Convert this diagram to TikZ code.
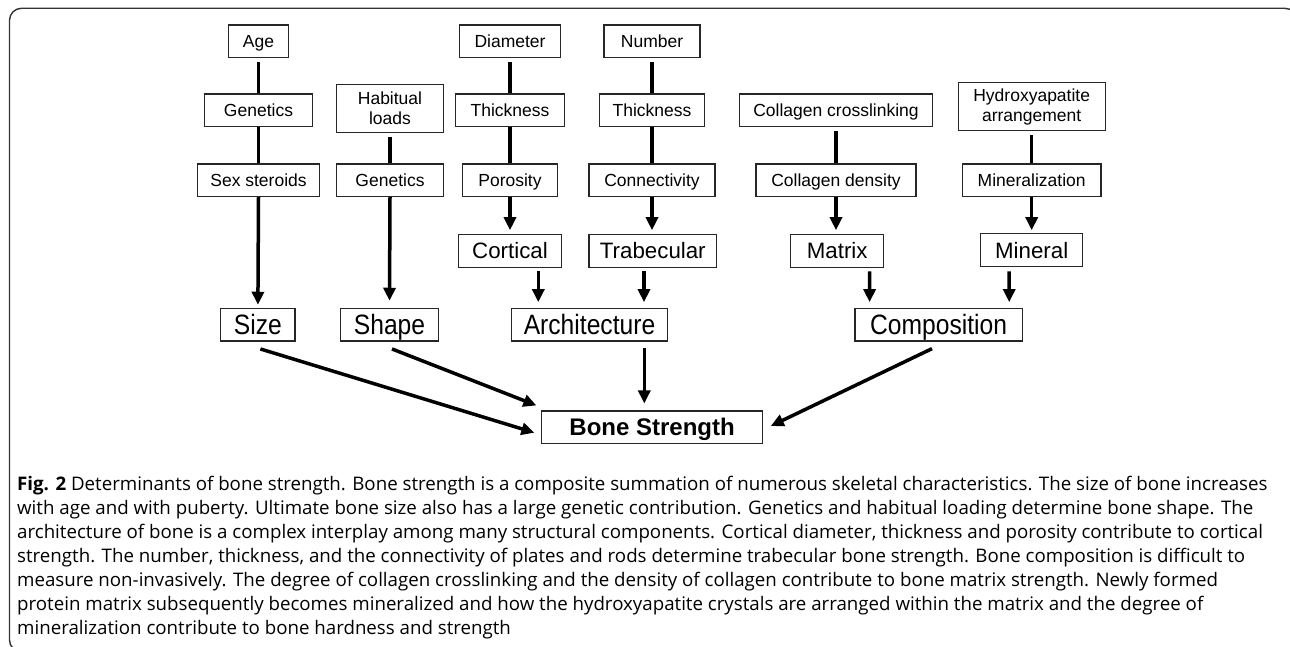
\documentclass[tikz,border=0pt]{standalone}
\usepackage{fontspec}
\setmainfont{Liberation Sans}
\newfontfamily\narrowfont[FakeStretch=0.88]{Liberation Sans}
\newfontfamily\capfont{Open Sans}
\usetikzlibrary{arrows.meta,calc}
\begin{document}
\begin{tikzpicture}[x=1pt,y=-1pt,
  box/.style={draw=black!85, line width=1.2pt, inner sep=0pt, align=center, text=black},
  sm/.style={box, font=\fontsize{17.5}{20}\selectfont, minimum height=32.5pt, text height=12.5pt, text depth=0pt},
  smtall/.style={box, font=\fontsize{17.5}{20}\selectfont, minimum height=48.4pt},
  md/.style={box, font=\fontsize{22.3}{24}\selectfont, minimum height=33pt, text height=16pt, text depth=0pt},
  lg/.style={box, font=\narrowfont\fontsize{28}{30}\selectfont, minimum height=32.7pt, text height=20pt, text depth=0pt},
  bold/.style={box, font=\bfseries\fontsize{24}{26}\selectfont, minimum height=32.3pt, text height=17.2pt, text depth=0pt},
  link/.style={line width=3.5pt, black},
  arr/.style={line width=3.5pt, black, -{Triangle[width=12pt,length=13pt]}},
]
\useasboundingbox (0,0) rectangle (1290,647);
\fill[white] (0,0) rectangle (1290,647);
% frame
\draw[line width=1.4pt, black!80, rounded corners=12pt] (9.5,8.3) rectangle (1297,652);

% top rows
\node[sm, minimum width=60pt] (age) at (258.5,41.2) {Age};
\node[sm, minimum width=108.4pt] (gen1) at (258.5,110.3) {Genetics};
\node[sm, minimum width=121.7pt] (sex) at (258.5,180.3) {Sex steroids};

\node[smtall, minimum width=107.6pt] (habit) at (390,108.5) {Habitual\\loads};
\node[sm, minimum width=107.6pt] (gen2) at (390,180.3) {Genetics};

\node[sm, minimum width=100.7pt] (diam) at (510,41.2) {Diameter};
\node[sm, minimum width=108.7pt] (thick1) at (510,110.3) {Thickness};
\node[sm, minimum width=95pt] (poro) at (510,180.3) {Porosity};

\node[sm, minimum width=96pt] (num) at (652,41.2) {Number};
\node[sm, minimum width=105.3pt] (thick2) at (652,110.3) {Thickness};
\node[sm, minimum width=126pt] (conn) at (652,180.3) {Connectivity};

\node[sm, minimum width=193pt] (ccross) at (836,110.3) {Collagen crosslinking};
\node[sm, minimum width=160pt] (cdens) at (836,180.3) {Collagen density};

\node[smtall, minimum width=147pt] (hydro) at (1031.7,106.5) {Hydroxyapatite\\arrangement};
\node[sm, minimum width=138.7pt] (miner) at (1031.7,180.3) {Mineralization};

% middle row
\node[md, minimum width=103.4pt] (cort) at (510,250.8) {Cortical};
\node[md, minimum width=127.5pt] (trab) at (652.8,250.8) {Trabecular};
\node[md, minimum width=92.7pt] (matrix) at (837.2,250.8) {Matrix};
\node[md, minimum width=102.1pt] (mineral) at (1031.7,250.3) {Mineral};

% large row
\node[lg, minimum width=74.3pt] (size) at (257.9,324.7) {Size};
\node[lg, minimum width=97.6pt] (shape) at (389.5,324.7) {Shape};
\node[lg, minimum width=156.3pt] (arch) at (589.5,324.7) {Architecture};
\node[lg, minimum width=167.2pt] (comp) at (938.6,324.7) {Composition};

\node[bold, minimum width=221pt] (bone) at (652.1,427.2) {Bone Strength};

% plain links
\draw[link] ($(age.south)+(0,4)$) -- (gen1.north);
\draw[link] (gen1.south) -- (sex.north);
\draw[link] ($(habit.south)+(0,4)$) -- (gen2.north);
\draw[link] ($(diam.south)+(0,4)$) -- (thick1.north);
\draw[link] (thick1.south) -- (poro.north);
\draw[link] ($(num.south)+(0,4)$) -- (thick2.north);
\draw[link] (thick2.south) -- (conn.north);
\draw[link] ($(ccross.south)+(0,4)$) -- (cdens.north);
\draw[link] ($(hydro.south)+(0,4)$) -- (miner.north);

% arrows into middle / large rows
\draw[arr] (sex.south) -- ($(size.north)+(0,-3)$);
\draw[arr] (gen2.south) -- ($(shape.north)+(0,-7)$);
\draw[arr] (poro.south) -- ($(cort.north)+(0,-3.5)$);
\draw[arr] (conn.south) -- ($(trab.north)+(-0.8,-3.5)$);
\draw[arr] (cdens.south) -- ($(matrix.north)+(-1.2,-3.5)$);
\draw[arr] (miner.south) -- ($(mineral.north)+(0,-3)$);

\draw[arr] ($(cort.south)+(28.3,3.4)$) -- ($(arch.north)+(-51.2,-5.6)$);
\draw[arr] ($(trab.south)+(-8.8,3.4)$) -- ($(arch.north)+(54.5,-5.6)$);
\draw[arr] ($(matrix.south)+(32.4,3.4)$) -- ($(comp.north)+(-69,-5.6)$);
\draw[arr] ($(mineral.south)+(-22.5,4)$) -- ($(comp.north)+(70.6,-5.6)$);

% arrows into Bone Strength
\draw[arr] ($(size.south)+(2.5,7.3)$) -- ($(bone.west)+(-6.6,5.5)$);
\draw[arr] ($(shape.south)+(2.5,7.3)$) -- ($(bone.north west)+(-4.6,-5)$);
\draw[arr] ($(arch.south)+(54.8,6.7)$) -- ($(bone.north)+(-7.8,-7)$);
\draw[arr] ($(comp.south)+(-6.6,7)$) -- ($(bone.east)+(7.6,-1.2)$);

% caption
\node[anchor=north west, align=left, inner sep=0pt, text=black,
      font=\capfont\fontsize{18.7}{24}\selectfont] (cap) at (17,476)
{\textbf{Fig. 2} Determinants of bone strength. Bone strength is a composite summation of numerous skeletal characteristics. The size of bone increases\\
with age and with puberty. Ultimate bone size also has a large genetic contribution. Genetics and habitual loading determine bone shape. The\\
architecture of bone is a complex interplay among many structural components. Cortical diameter, thickness and porosity contribute to cortical\\
strength. The number, thickness, and the connectivity of plates and rods determine trabecular bone strength. Bone composition is difficult to\\
measure non-invasively. The degree of collagen crosslinking and the density of collagen contribute to bone matrix strength. Newly formed\\
protein matrix subsequently becomes mineralized and how the hydroxyapatite crystals are arranged within the matrix and the degree of\\
mineralization contribute to bone hardness and strength};
\end{tikzpicture}
\end{document}
